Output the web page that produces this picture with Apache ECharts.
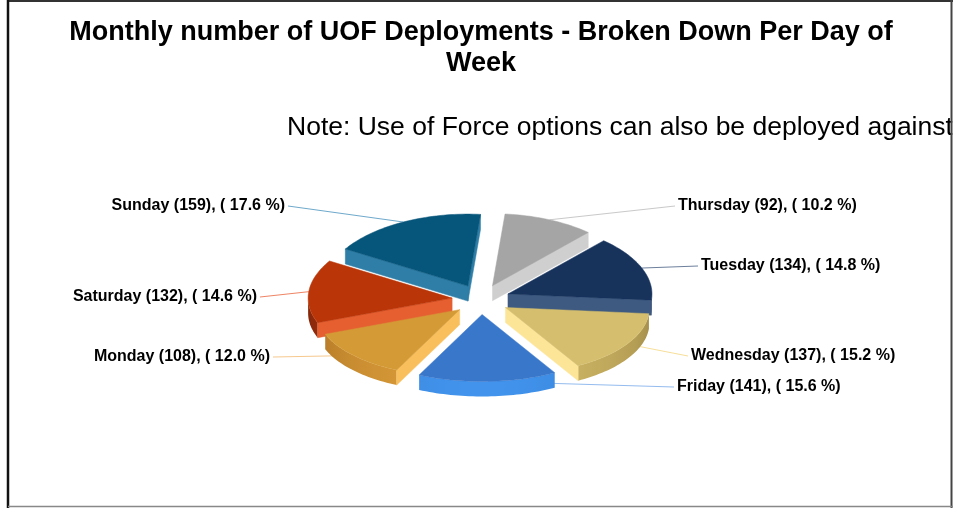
<!DOCTYPE html>
<html><head><meta charset="utf-8">
<script src="https://cdn.jsdelivr.net/npm/echarts/dist/echarts.min.js"></script>
<style>html,body{margin:0;padding:0;background:#fff}#c{width:953px;height:508px}</style>
</head><body><div id="c"></div>
<script>
// ---- data ----
const days = ['Thursday','Tuesday','Wednesday','Friday','Monday','Saturday','Sunday'];
const counts = [92,134,137,141,108,132,159];
const percents = [10.2,14.8,15.2,15.6,12.0,14.6,17.6];
const titleLines = ['Monthly number of UOF Deployments - Broken Down Per Day of','Week'];
const noteText = 'Note: Use of Force options can also be deployed against';

// ---- styles ----
const topColors  = ['#A5A5A5','#17335C','#D5BE6D','#3977CA','#D49A36','#BA3609','#06557A'];
const faceColors = ['#CFCFCF','#3E5A81','#FDE598','#4A8AE0','#F9BF5D','#E55F31','#2F7EA7'];
const wallDark   = ['#7F7F7F','#0F2342','#A08A48','#2A62B2','#A86F22','#80260A','#044060'];
const wallLight  = ['#BDBDBD','#2A4A78','#CDB564','#4193EC','#D89A38','#B03510','#1B6E98'];
const leaderColors = ['#C9C9C9','#6D7F9C','#F7DF9A','#94BCEE','#F6C98E','#EE8464','#6EA9CB'];
// ---- layout ----
const labelPos = [[678,206,'left'],[701,266,'left'],[691,356,'left'],[677,387,'left'],[270,357,'right'],[257,297,'right'],[285,206,'right']];
const PIE = {cx:481, cy:299.5, rx:144, ry:69.5, persp:2.5, ex:29, ey:15, depth:15, start:5};

const total = counts.reduce((a,b)=>a+b,0);
const angles = [];
let acc = PIE.start;
counts.forEach(v => { const a0 = acc; acc += v/total*360; angles.push([a0, acc]); });
const rad = d => d*Math.PI/180;
const ryAt = t => PIE.ry + PIE.persp*Math.cos(rad(t));
const tipOf = m => [PIE.cx + PIE.ex*Math.sin(rad(m)), PIE.cy - PIE.ey*Math.cos(rad(m))];
const rim = (tip,t,dy) => [tip[0] + PIE.rx*Math.sin(rad(t)), tip[1] - ryAt(t)*Math.cos(rad(t)) + (dy||0)];
function arcPts(tip,a0,a1,dy){ const n=Math.max(2,Math.ceil((a1-a0)/1.5)); const p=[]; for(let k=0;k<=n;k++) p.push(rim(tip,a0+(a1-a0)*k/n,dy)); return p; }
function hex(c){ return [parseInt(c.slice(1,3),16),parseInt(c.slice(3,5),16),parseInt(c.slice(5,7),16)]; }
function mix(c1,c2,f){ const a=hex(c1), b=hex(c2); return 'rgb('+a.map((v,k)=>Math.round(v+(b[k]-v)*f)).join(',')+')'; }
const order = angles.map((a,i)=>i).sort((i,j)=>Math.cos(rad((angles[j][0]+angles[j][1])/2)) - Math.cos(rad((angles[i][0]+angles[i][1])/2)));
const rank = []; order.forEach((idx,pos)=>rank[idx]=pos);
const labelText = i => days[i] + ' (' + counts[i] + '), ( ' + percents[i].toFixed(1) + ' %)';

function renderSlice(params, api){
  const i = params.dataIndex;
  const [a0,a1] = angles[i];
  const mid = (a0+a1)/2;
  const tip = tipOf(mid);
  const r = rank[i];
  const D = PIE.depth;
  const ch = [];
  const w0 = Math.max(a0,90), w1 = Math.min(a1,270);
  if (w1 > w0) {
    const topArc = arcPts(tip,w0,w1,0);
    const botArc = arcPts(tip,w0,w1,D).reverse();
    const xs = topArc.map(p=>p[0]);
    const minX = Math.min.apply(null,xs), maxX = Math.max.apply(null,xs);
    const n = topArc.length-1;
    const stops = [];
    for (let k=0;k<=n;k++){
      const t = w0+(w1-w0)*k/n;
      const f = Math.max(0,-Math.cos(rad(t)));
      stops.push({offset: maxX>minX ? (topArc[k][0]-minX)/(maxX-minX) : 0, color: mix(wallDark[i], wallLight[i], f)});
    }
    stops.sort((a,b)=>a.offset-b.offset);
    const grad = new echarts.graphic.LinearGradient(minX,0,maxX,0,stops,true);
    ch.push({type:'polygon', z2:r*10+1, shape:{points:topArc.concat(botArc)}, style:{fill:grad}});
  }
  [[a0,a0-90],[a1,a1+90]].forEach(([t,nrm]) => {
    if (Math.cos(rad(nrm)) < 0) {
      const p = rim(tip,t);
      ch.push({type:'polygon', z2:r*10+2, shape:{points:[tip,p,[p[0],p[1]+D],[tip[0],tip[1]+D]]}, style:{fill:faceColors[i], stroke:faceColors[i], lineWidth:0.5}});
    }
  });
  ch.push({type:'polygon', z2:r*10+5, shape:{points:[tip].concat(arcPts(tip,a0,a1,0))}, style:{fill:topColors[i], stroke:topColors[i], lineWidth:0.5}});
  const anchor = rim(tip, mid);
  const lp = labelPos[i];
  const endX = lp[2]==='left' ? lp[0]-3 : lp[0]+3;
  ch.push({type:'polyline', z2:-5, shape:{points:[anchor,[endX,lp[1]]]}, style:{stroke:leaderColors[i], lineWidth:1, fill:null}});
  ch.push({type:'text', z2:500, x:lp[0], y:lp[1], style:{text:labelText(i), font:'bold 16px "Liberation Sans", Arial, sans-serif', fill:'#000', align:lp[2], verticalAlign:'middle'}});
  return {type:'group', children:ch};
}

const chart = echarts.init(document.getElementById('c'), null, {renderer:'canvas'});
chart.setOption({
  animation:false,
  backgroundColor:'#ffffff',
  series:[{type:'custom', coordinateSystem:'none', renderItem:renderSlice, data:counts.map(v=>[v])}],
  graphic:[
    {type:'text', x:481, y:33, style:{text:titleLines[0], font:'bold 27px "Liberation Sans", Arial, sans-serif', fill:'#000', align:'center', verticalAlign:'middle'}},
    {type:'text', x:481, y:64, style:{text:titleLines[1], font:'bold 27px "Liberation Sans", Arial, sans-serif', fill:'#000', align:'center', verticalAlign:'middle'}},
    {type:'text', x:287, y:128, style:{text:noteText, font:'26.5px "Liberation Sans", Arial, sans-serif', fill:'#000', align:'left', verticalAlign:'middle'}},
    {type:'line', z:10, shape:{x1:8, y1:1, x2:953, y2:1}, style:{stroke:'#333', lineWidth:2}},
    {type:'line', z:10, shape:{x1:8, y1:0, x2:8, y2:508}, style:{stroke:'#111', lineWidth:2.5}},
    {type:'line', z:10, shape:{x1:951.5, y1:0, x2:951.5, y2:508}, style:{stroke:'#444', lineWidth:2}},
    {type:'rect', z:9, shape:{x:952.5, y:0, width:2, height:508}, style:{fill:'#fff'}},
    {type:'line', z:10, shape:{x1:8, y1:506.5, x2:953, y2:506.5}, style:{stroke:'#888', lineWidth:1.5}}
  ]
});
</script>
</body></html>
